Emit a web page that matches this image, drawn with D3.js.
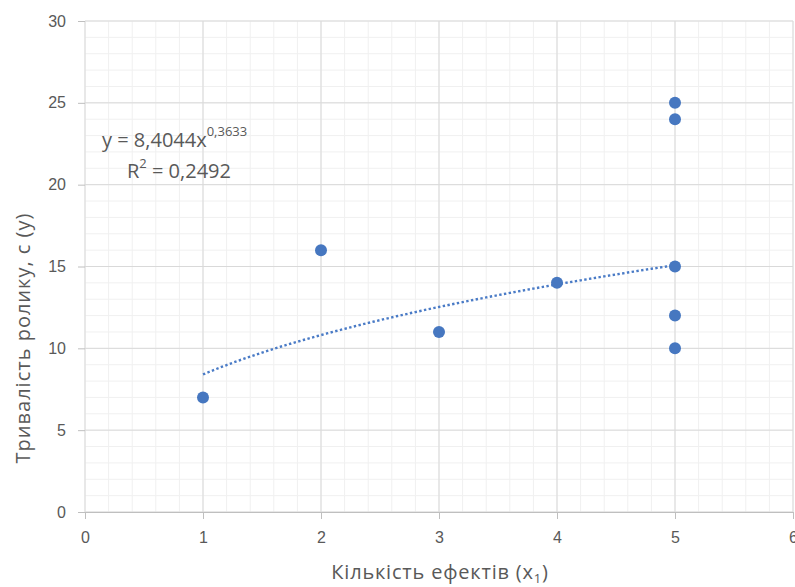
<!DOCTYPE html>
<html>
<head>
<meta charset="utf-8">
<script src="https://cdn.jsdelivr.net/npm/d3@7"></script>
<style>
  html, body { margin: 0; padding: 0; background: #fff; }
  svg { display: block; font-family: "Open Sans", "Noto Sans", sans-serif; }
</style>
</head>
<body>
<svg id="chart" width="795" height="587"></svg>
<script>
// Number of effects vs clip duration
const effects   = [1, 2, 3, 4, 5, 5, 5, 5, 5];
const durations = [7, 16, 11, 14, 15, 25, 24, 12, 10];

// Power trendline y = a * x^b
const trendA = 8.4044;
const trendB = 0.3633;
const trendR2 = "0,2492";

const xTicks = [0, 1, 2, 3, 4, 5, 6];
const yTicks = [0, 5, 10, 15, 20, 25, 30];

const svg = d3.select("#chart");
const plot = { left: 85, right: 793, top: 21, bottom: 512 };

const x = d3.scaleLinear().domain([0, 6]).range([plot.left, plot.right]);
const y = d3.scaleLinear().domain([0, 30]).range([plot.bottom, plot.top]);

// Minor gridlines
const g = svg.append("g");
g.selectAll(".vminor").data(d3.range(0, 6.0001, 0.2)).join("line")
  .attr("x1", d => x(d)).attr("x2", d => x(d))
  .attr("y1", plot.top).attr("y2", plot.bottom)
  .attr("stroke", "#f0f0f0").attr("stroke-width", 1);
g.selectAll(".hminor").data(d3.range(0, 30.0001, 1)).join("line")
  .attr("x1", plot.left).attr("x2", plot.right)
  .attr("y1", d => y(d)).attr("y2", d => y(d))
  .attr("stroke", "#f0f0f0").attr("stroke-width", 1);

// Major gridlines
g.selectAll(".vmajor").data(xTicks).join("line")
  .attr("x1", d => x(d)).attr("x2", d => x(d))
  .attr("y1", plot.top).attr("y2", plot.bottom)
  .attr("stroke", "#d9d9d9").attr("stroke-width", 1);
g.selectAll(".hmajor").data(yTicks).join("line")
  .attr("x1", plot.left).attr("x2", plot.right)
  .attr("y1", d => y(d)).attr("y2", d => y(d))
  .attr("stroke", "#d9d9d9").attr("stroke-width", 1);

// Axes
const xAxis = d3.axisBottom(x).tickValues(xTicks).tickFormat(d3.format("d"))
  .tickSize(7).tickPadding(13);
const yAxis = d3.axisLeft(y).tickValues(yTicks).tickFormat(d3.format("d"))
  .tickSize(7).tickPadding(12);

const gx = svg.append("g").attr("transform", `translate(0,${plot.bottom})`).call(xAxis);
gx.select(".domain").attr("stroke", "#bfbfbf");
gx.selectAll(".tick line").attr("stroke", "#bfbfbf");
gx.selectAll(".tick text").attr("fill", "#595959").attr("font-size", 16);

const gy = svg.append("g").attr("transform", `translate(${plot.left},0)`).call(yAxis);
gy.select(".domain").remove();
gy.selectAll(".tick line").attr("stroke", "#bfbfbf");
gy.selectAll(".tick text").attr("fill", "#595959").attr("font-size", 16);

// Trendline
const trendX = d3.range(1, 5.0001, 0.05);
const line = d3.line().x(d => x(d)).y(d => y(trendA * Math.pow(d, trendB)));
svg.append("path").datum(trendX)
  .attr("d", line)
  .attr("fill", "none")
  .attr("stroke", "#4a7bc6")
  .attr("stroke-width", 2.4)
  .attr("stroke-dasharray", "2.4,2.4");

// Points
svg.selectAll(".pt").data(effects.map((e, i) => [e, durations[i]])).join("circle")
  .attr("cx", d => x(d[0])).attr("cy", d => y(d[1]))
  .attr("r", 6)
  .attr("fill", "#4677c0");

// Trendline equation
const eq = svg.append("text")
  .attr("x", 102).attr("y", 147)
  .attr("fill", "#595959").attr("font-size", 20);
eq.append("tspan").text(`y = ${String(trendA).replace(".", ",")}x`);
eq.append("tspan").attr("font-size", 13).attr("dy", -11)
  .text(String(trendB).replace(".", ","));

const r2 = svg.append("text")
  .attr("x", 127).attr("y", 178)
  .attr("fill", "#595959").attr("font-size", 20);
r2.append("tspan").text("R");
r2.append("tspan").attr("font-size", 13).attr("dy", -10).text("2");
r2.append("tspan").attr("dy", 10).text(` = ${trendR2}`);

// Axis titles
const xt = svg.append("text")
  .attr("x", 440).attr("y", 579)
  .attr("text-anchor", "middle")
  .attr("fill", "#595959").attr("font-size", 20)
  .attr("letter-spacing", 0.8);
xt.append("tspan").text("Кількість ефектів (x");
xt.append("tspan").attr("font-size", 13).attr("dy", 4).text("1");
xt.append("tspan").attr("dy", -4).text(")");

svg.append("text")
  .attr("transform", "translate(30,338) rotate(-90)")
  .attr("text-anchor", "middle")
  .attr("fill", "#595959").attr("font-size", 20)
  .attr("letter-spacing", 1)
  .text("Тривалість ролику, с (у)");
</script>
</body>
</html>
